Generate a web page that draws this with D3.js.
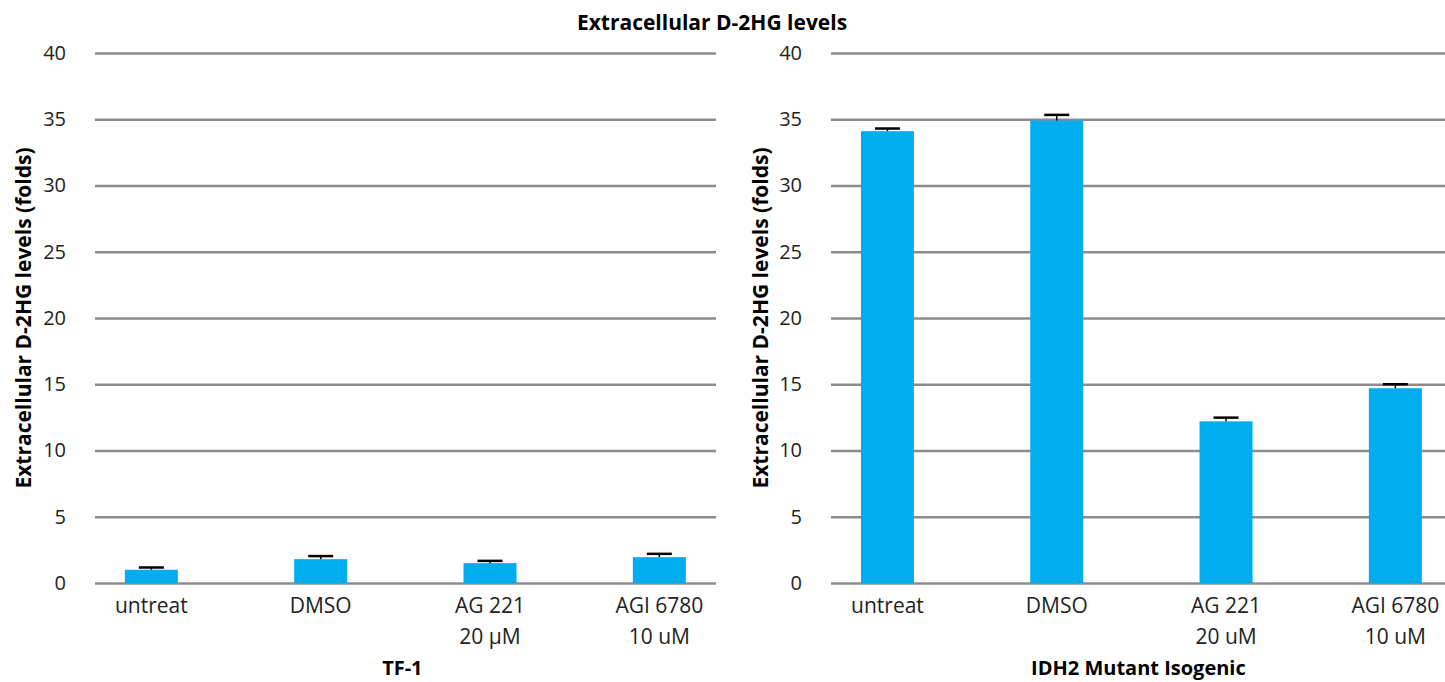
<!DOCTYPE html>
<html><head><meta charset="utf-8">
<script src="https://cdn.jsdelivr.net/npm/d3@7"></script>
<style>
body{margin:0;background:#fff;}
svg{display:block;font-family:"Open Sans",sans-serif;}
</style></head>
<body><svg id="c" width="1445" height="682"></svg>
<script>
const chartTitle = "Extracellular D-2HG levels";
const yTitle = "Extracellular D-2HG levels (folds)";
const yTicks = [0,5,10,15,20,25,30,35,40];
const categoriesTF1 = ["untreat","DMSO","AG 221\n20 μM","AGI 6780\n10 uM"];
const valuesTF1 = [1.0,1.8,1.5,1.95];
const errorsTF1 = [0.17,0.23,0.17,0.25];
const categoriesIDH2 = ["untreat","DMSO","AG 221\n20 uM","AGI 6780\n10 uM"];
const valuesIDH2 = [34.1,34.9,12.2,14.7];
const errorsIDH2 = [0.2,0.43,0.28,0.3];
const panelNames = ["TF-1","IDH2 Mutant Isogenic"];

const svg = d3.select("#c");
const y = d3.scaleLinear().domain([0,40]).range([583,53]);
const BAR = "#00AEEF", GRID = "#8c8c8c";
const FONT = '"Open Sans",sans-serif';

const panels = [
  {name:panelNames[0], cats:categoriesTF1, vals:valuesTF1, errs:errorsTF1, band:[66.7,744], grid:[95,716], yt:31},
  {name:panelNames[1], cats:categoriesIDH2, vals:valuesIDH2, errs:errorsIDH2, band:[802.8,1480], grid:[831,1452], yt:768}
];

svg.append("text").attr("x",712).attr("y",30).attr("text-anchor","middle")
  .attr("font-weight","bold").attr("font-size",21).attr("fill","#000").text(chartTitle);

panels.forEach(p=>{
  const x = d3.scaleBand().domain(p.cats).range(p.band).padding(0);
  const g = svg.append("g");
  const ya = g.append("g").attr("transform",`translate(${p.grid[0]},0)`)
    .call(d3.axisLeft(y).tickValues(yTicks).tickSize(-(p.grid[1]-p.grid[0])).tickPadding(29));
  ya.select(".domain").remove();
  ya.selectAll(".tick line").attr("stroke",GRID).attr("stroke-width",2.5);
  ya.selectAll(".tick text").attr("font-size",20).attr("fill","#222").attr("font-family",FONT);
  const bw = x.bandwidth()*0.313;
  g.selectAll("rect.bar").data(p.vals).enter().append("rect")
    .attr("x",(d,i)=>x(p.cats[i])+x.bandwidth()/2-bw/2)
    .attr("y",d=>y(d)).attr("width",bw).attr("height",d=>y(0)-y(d)).attr("fill",BAR);
  p.vals.forEach((v,i)=>{
    const cx = x(p.cats[i])+x.bandwidth()/2;
    g.append("line").attr("x1",cx).attr("x2",cx).attr("y1",y(v)).attr("y2",y(v+p.errs[i]))
      .attr("stroke","#000").attr("stroke-width",1.5);
    g.append("line").attr("x1",cx-12.5).attr("x2",cx+12.5).attr("y1",y(v+p.errs[i])).attr("y2",y(v+p.errs[i]))
      .attr("stroke","#000").attr("stroke-width",2.5);
  });
  const xa = g.append("g").attr("transform","translate(0,583)").call(d3.axisBottom(x).tickSize(0).tickPadding(0));
  xa.select(".domain").remove();
  xa.selectAll(".tick text").each(function(d){
    const t = d3.select(this); t.text(null).attr("y",0).attr("dy",null)
      .attr("font-size",21).attr("fill","#222").attr("font-family",FONT);
    d.split("\n").forEach((line,k)=>{
      t.append("tspan").attr("x",0).attr("y",30+k*31).text(line);
    });
  });
  g.append("text").attr("x",(p.band[0]+p.band[1])/2 - 3).attr("y",675).attr("text-anchor","middle")
    .attr("font-weight","bold").attr("font-size",20).attr("fill","#000").text(p.name);
  g.append("text").attr("transform",`translate(${p.yt},318) rotate(-90)`).attr("text-anchor","middle")
    .attr("font-weight","bold").attr("font-size",21).attr("fill","#000").text(yTitle);
});
</script></body></html>
